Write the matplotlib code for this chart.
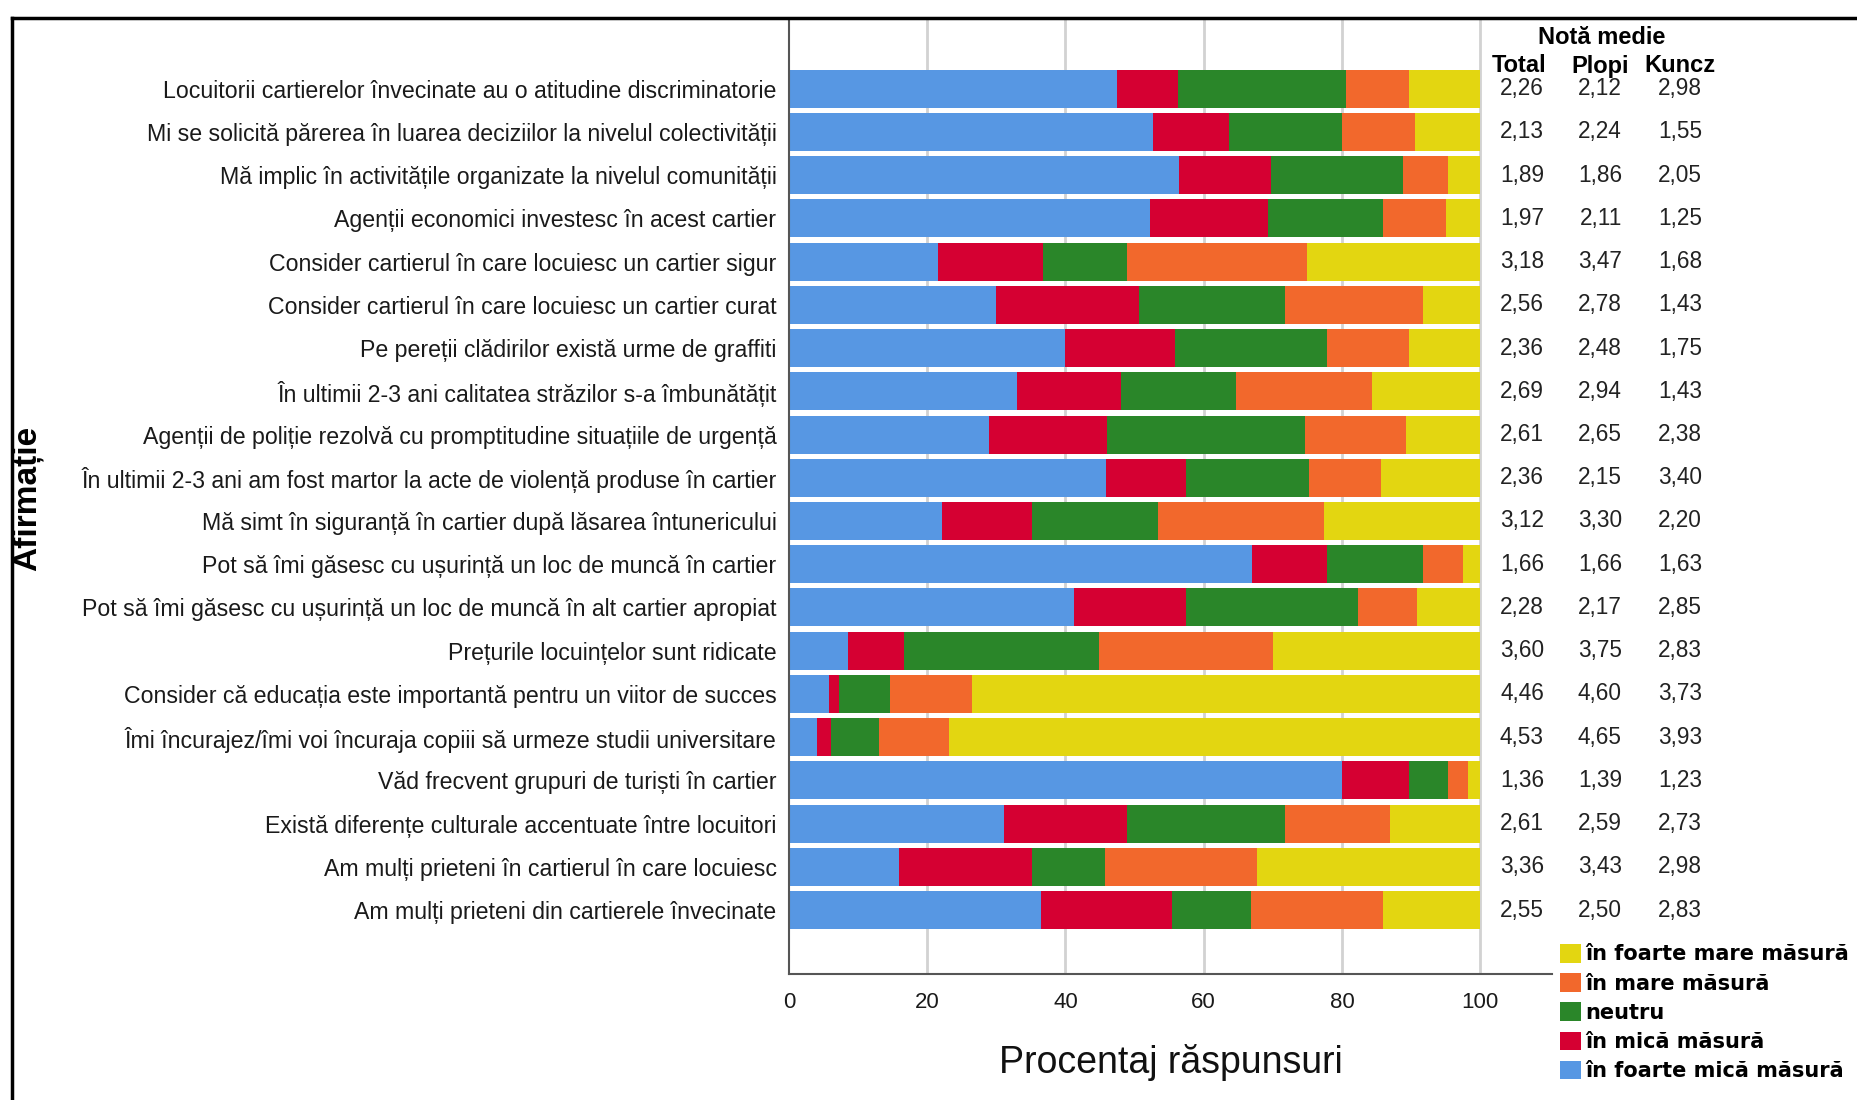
import matplotlib
matplotlib.use("Agg")
import matplotlib.pyplot as plt
from matplotlib.lines import Line2D
from matplotlib.patches import Patch
from matplotlib.transforms import blended_transform_factory

statements = [
    "Locuitorii cartierelor învecinate au o atitudine discriminatorie",
    "Mi se solicită părerea în luarea deciziilor la nivelul colectivității",
    "Mă implic în activitățile organizate la nivelul comunității",
    "Agenții economici investesc în acest cartier",
    "Consider cartierul în care locuiesc un cartier sigur",
    "Consider cartierul în care locuiesc un cartier curat",
    "Pe pereții clădirilor există urme de graffiti",
    "În ultimii 2-3 ani calitatea străzilor s-a îmbunătățit",
    "Agenții de poliție rezolvă cu promptitudine situațiile de urgență",
    "În ultimii 2-3 ani am fost martor la acte de violență produse în cartier",
    "Mă simt în siguranță în cartier după lăsarea întunericului",
    "Pot să îmi găsesc cu ușurință un loc de muncă în cartier",
    "Pot să îmi găsesc cu ușurință un loc de muncă în alt cartier apropiat",
    "Prețurile locuințelor sunt ridicate",
    "Consider că educația este importantă pentru un viitor de succes",
    "Îmi încurajez/îmi voi încuraja copiii să urmeze studii universitare",
    "Văd frecvent grupuri de turiști în cartier",
    "Există diferențe culturale accentuate între locuitori",
    "Am mulți prieteni în cartierul în care locuiesc",
    "Am mulți prieteni din cartierele învecinate",
]

foarte_mica = [47.4, 52.7, 56.4, 52.3, 21.6, 29.9, 40.0, 33.0, 28.9, 45.8,
               22.1, 67.0, 41.2, 8.6, 5.8, 4.1, 80.0, 31.1, 15.9, 36.4]
mica = [8.9, 10.9, 13.4, 17.0, 15.1, 20.7, 15.9, 15.1, 17.1, 11.7,
        13.0, 10.8, 16.3, 8.0, 1.5, 2.0, 9.7, 17.8, 19.2, 19.0]
neutru = [24.3, 16.4, 19.1, 16.7, 12.2, 21.2, 21.9, 16.6, 28.6, 17.8,
          18.3, 13.9, 24.9, 28.2, 7.3, 6.9, 5.7, 22.9, 10.6, 11.4]
mare = [9.1, 10.6, 6.5, 9.0, 26.1, 20.0, 11.9, 19.7, 14.7, 10.3,
        24.0, 5.8, 8.5, 25.3, 11.9, 10.2, 2.9, 15.1, 22.0, 19.2]
foarte_mare = [10.3, 9.4, 4.6, 5.0, 25.0, 8.2, 10.3, 15.6, 10.7, 14.4,
               22.6, 2.5, 9.1, 29.9, 73.5, 76.8, 1.7, 13.1, 32.3, 14.0]

mean_total = ["2,26", "2,13", "1,89", "1,97", "3,18", "2,56", "2,36", "2,69", "2,61", "2,36",
              "3,12", "1,66", "2,28", "3,60", "4,46", "4,53", "1,36", "2,61", "3,36", "2,55"]
mean_plopi = ["2,12", "2,24", "1,86", "2,11", "3,47", "2,78", "2,48", "2,94", "2,65", "2,15",
              "3,30", "1,66", "2,17", "3,75", "4,60", "4,65", "1,39", "2,59", "3,43", "2,50"]
mean_kuncz = ["2,98", "1,55", "2,05", "1,25", "1,68", "1,43", "1,75", "1,43", "2,38", "3,40",
              "2,20", "1,63", "2,85", "2,83", "3,73", "3,93", "1,23", "2,73", "2,98", "2,83"]

series_labels = ["în foarte mică măsură", "în mică măsură", "neutru",
                 "în mare măsură", "în foarte mare măsură"]
x_ticks = [0, 20, 40, 60, 80, 100]

colors = ["#5797e3", "#d50032", "#2a8629", "#f2682c", "#e3d611"]

W, H = 1858, 1100
fig = plt.figure(figsize=(W / 100, H / 100), dpi=100)
fig.patch.set_facecolor("white")

ax_left, ax_right = 789, 1552
ax_top, ax_bot = 20, 974
ax = fig.add_axes([ax_left / W, 1 - ax_bot / H, (ax_right - ax_left) / W, (ax_bot - ax_top) / H])

y = list(range(len(statements)))
series = [foarte_mica, mica, neutru, mare, foarte_mare]
left = [0.0] * len(statements)
for vals, col, lab in zip(series, colors, series_labels):
    ax.barh(y, vals, left=left, height=0.88, color=col, edgecolor="none", label=lab, zorder=2)
    left = [l + v for l, v in zip(left, vals)]

ax.set_xlim(0, 110.4)
ax.set_ylim(len(statements) - 1 + 1.48, -1.59)
ax.set_xticks(x_ticks)
ax.set_xticklabels([str(t) for t in x_ticks])
for t in x_ticks[1:]:
    ax.axvline(t, color="#d2d2d2", lw=2, zorder=1)

fam = ["Liberation Sans", "DejaVu Sans"]
ax.set_yticks(y)
ax.set_yticklabels(statements)
for lbl in ax.get_yticklabels():
    lbl.set_fontfamily(fam)
    lbl.set_fontsize(16.7)
    lbl.set_color("#1a1a1a")
for lbl in ax.get_xticklabels():
    lbl.set_fontfamily(fam)
    lbl.set_fontsize(16)
    lbl.set_color("#1a1a1a")
ax.tick_params(axis="y", length=0, pad=9)
ax.tick_params(axis="x", length=0, pad=13)

for s in ["top", "right"]:
    ax.spines[s].set_visible(False)
ax.spines["left"].set_color("#555555")
ax.spines["bottom"].set_color("#555555")
ax.spines["left"].set_linewidth(1.5)
ax.spines["bottom"].set_linewidth(1.5)

ax.set_xlabel("Procentaj răspunsuri", fontsize=27, family=fam,
              labelpad=22, color="#111111")

# mean columns
tr = blended_transform_factory(fig.transFigure, ax.transData)
col_right = [1544, 1622, 1702]
for vals, xr in zip([mean_total, mean_plopi, mean_kuncz], col_right):
    for yi, v in zip(y, vals):
        ax.text(xr / W, yi, v, transform=tr, ha="right", va="center", fontsize=16.3,
                family=fam, color="#222222", clip_on=False)

fig.text(1602 / W, 1 - 38 / H, "Notă medie", ha="center", va="center", fontsize=17,
         fontweight="bold", family=fam)
for name, xc in zip(["Total", "Plopi", "Kuncz"], [1519, 1600, 1680]):
    fig.text(xc / W, 1 - 66 / H, name, ha="center", va="center", fontsize=17,
             fontweight="bold", family=fam)

# y-axis title
fig.text(27 / W, 1 - 498 / H, "Afirmație", rotation=90, ha="center", va="center",
         fontsize=24, fontweight="bold", family=fam)

# legend (reverse order)
handles = [Patch(facecolor=c, edgecolor="none") for c in colors][::-1]
labels = series_labels[::-1]
fig.legend(handles, labels, loc="upper left", bbox_to_anchor=(1560 / W, 1 - 944 / H),
           frameon=False, prop=dict(family="DejaVu Sans", weight="bold", size=15),
           handlelength=1.0, handleheight=1.0, handletextpad=0.2, labelspacing=0.42,
           borderpad=0, borderaxespad=0)

# outer frame
fig.add_artist(Line2D([12 / W, 1.0], [1 - 18 / H, 1 - 18 / H], transform=fig.transFigure,
                      color="black", lw=2.5))
fig.add_artist(Line2D([12 / W, 12 / W], [0, 1 - 18 / H], transform=fig.transFigure,
                      color="black", lw=2.5))

fig.savefig("out.png", dpi=100)
